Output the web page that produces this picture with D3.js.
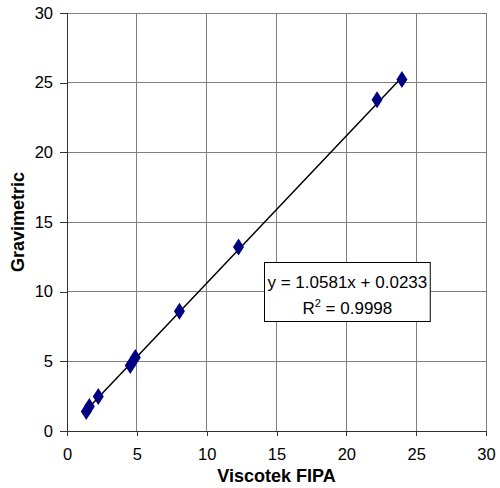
<!DOCTYPE html>
<html><head><meta charset="utf-8">
<script src="https://cdn.jsdelivr.net/npm/d3@7"></script>
<style>body{margin:0;background:#fff;} text{font-family:Arial,"Liberation Sans",sans-serif;}</style>
</head><body><svg id="c" width="500" height="488"></svg>
<script>
const xValues = [1.38, 1.6, 2.24, 4.53, 4.89, 8.05, 12.28, 22.2, 23.98];
const yValues = [1.40, 1.76, 2.48, 4.70, 5.28, 8.6, 13.2, 23.78, 25.23];
const tickValues = [0, 5, 10, 15, 20, 25, 30];
const slope = 1.0581, intercept = 0.0233;
const eqLabel = "y = 1.0581x + 0.0233";
const r2Value = "0.9998";
const xTitle = "Viscotek FIPA", yTitle = "Gravimetric";

const svg = d3.select("#c");
const L = 67, R = 486, T = 13, B = 431;
const x = d3.scaleLinear().domain([0, 30]).range([L, R]);
const y = d3.scaleLinear().domain([0, 30]).range([B, T]);

svg.append("g").selectAll("line").data(tickValues.slice(1)).join("line")
  .attr("x1", d => x(d)).attr("x2", d => x(d)).attr("y1", T).attr("y2", B)
  .attr("stroke", "#808080").attr("stroke-width", 1).attr("shape-rendering","crispEdges");
svg.append("g").selectAll("line").data(tickValues.slice(1)).join("line")
  .attr("y1", d => y(d)).attr("y2", d => y(d)).attr("x1", L).attr("x2", R)
  .attr("stroke", "#808080").attr("stroke-width", 1).attr("shape-rendering","crispEdges");

const xAxis = svg.append("g").attr("transform", `translate(0,${B})`)
  .call(d3.axisBottom(x).tickValues(tickValues).tickSize(5).tickPadding(12));
const yAxis = svg.append("g").attr("transform", `translate(${L},0)`)
  .call(d3.axisLeft(y).tickValues(tickValues).tickSize(7).tickPadding(7));
[xAxis, yAxis].forEach(a => {
  a.select(".domain").attr("stroke", "#333").attr("shape-rendering","crispEdges");
  a.selectAll(".tick line").attr("stroke", "#333").attr("shape-rendering","crispEdges");
  a.selectAll("text").attr("font-size", 16.5).attr("fill", "#000")
    .attr("font-family", "Arial, 'Liberation Sans', sans-serif");
});

const x0 = d3.min(xValues), x1 = d3.max(xValues);
svg.append("line")
  .attr("x1", x(x0)).attr("y1", y(slope * x0 + intercept))
  .attr("x2", x(x1)).attr("y2", y(slope * x1 + intercept))
  .attr("stroke", "#000").attr("stroke-width", 1.5);

const pts = xValues.map((v, i) => [v, yValues[i]]);
svg.append("g").selectAll("path").data(pts).join("path")
  .attr("d", d => {
    const cx = x(d[0]), cy = y(d[1]), w = 5.5, h = 8.5;
    return `M${cx},${cy - h}L${cx + w},${cy}L${cx},${cy + h}L${cx - w},${cy}Z`;
  })
  .attr("fill", "#000080");

// equation box sized to its text
const box = svg.append("g");
const rect = box.append("rect").attr("fill", "#fff").attr("stroke", "#000").attr("stroke-width", 1);
const t1 = box.append("text").attr("font-size", 17).text(eqLabel);
const r2 = box.append("text").attr("font-size", 17);
r2.append("tspan").text("R");
r2.append("tspan").attr("dy", -7).attr("font-size", 11).text("2");
r2.append("tspan").attr("dy", 7).text(" = " + r2Value);
const w1 = t1.node().getComputedTextLength();
const w2 = r2.node().getComputedTextLength();
const bx = 264.5, by = 262.5, pad = 3;
const bw = w1 + 2 * pad;
rect.attr("x", bx).attr("y", by).attr("width", bw).attr("height", 59);
t1.attr("x", bx + pad).attr("y", by + 25);
r2.attr("x", bx + bw / 2 - w2 / 2).attr("y", by + 51);

svg.append("text").attr("x", (L + R) / 2).attr("y", 482).attr("text-anchor", "middle")
  .attr("font-size", 18).attr("font-weight", "bold").text(xTitle);
svg.append("text").attr("transform", `translate(24,${(T + B) / 2}) rotate(-90)`)
  .attr("text-anchor", "middle").attr("font-size", 18).attr("font-weight", "bold").text(yTitle);
</script></body></html>
